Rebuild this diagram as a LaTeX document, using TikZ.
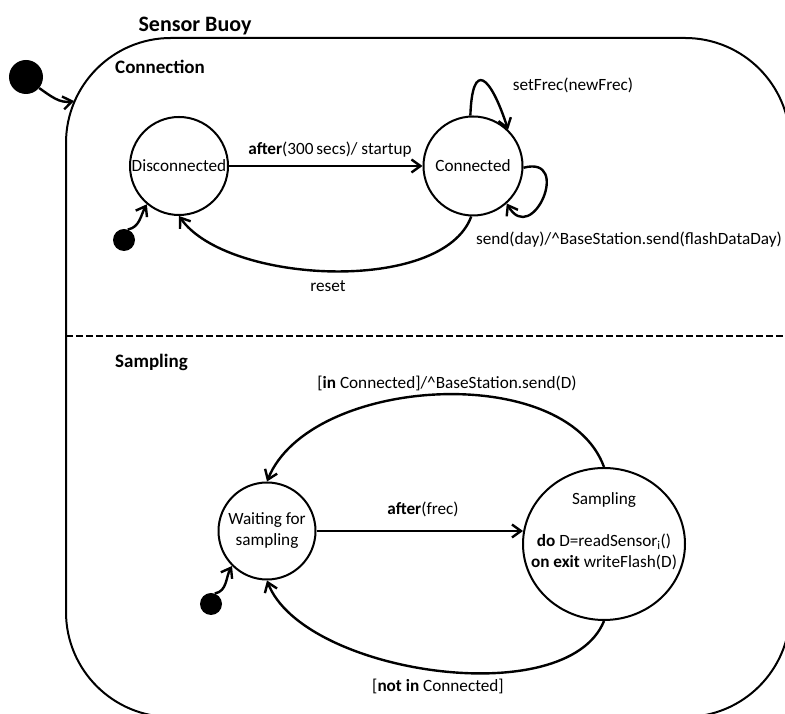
\documentclass[tikz,border=0pt]{standalone}
\usepackage{fontspec}
\setmainfont{Carlito}
\usetikzlibrary{positioning,shapes,fit,calc,arrows.meta}

\begin{document}
\begin{tikzpicture}[x=1pt,y=1pt,font=\fontsize{17.2}{21}\selectfont,
        sstate/.style={draw,circle,line width=2pt,inner sep=0pt,align=center},
        tr/.style={line width=2.4pt,-{Straight Barb[length=9pt,width=13pt]}},
        initdot/.style={fill,circle,inner sep=0pt},
        lbl/.style={inner sep=0pt,anchor=base},
        ttl/.style={inner sep=0pt,anchor=base west,font=\bfseries\fontsize{19}{23}\selectfont}]
        \useasboundingbox (0,0) rectangle (785,714);
        \clip (0,0) rectangle (785,714);

        % composite state
        \draw[line width=2pt,rounded corners=105pt] (66,-3) rectangle (790,676);
        \draw[line width=2pt,dash pattern=on 7pt off 3pt] (66,378) -- (790,378);
        \node[inner sep=0pt,anchor=base,font=\bfseries\fontsize{22}{26}\selectfont](buoy)at(195,682){Sensor Buoy};
        \node[ttl](conn)at(115,640){Connection};
        \node[ttl](samp)at(115,346){Sampling};

        \node[initdot,minimum size=34pt](start)at(26,637){};
        \coordinate (entry) at (74,613);
        \draw[tr] (start.-40) to [out=-35,in=190] (entry);

        % connection region
        \node[sstate,minimum size=98pt](dis)at(179,548){Disconnected};
        \node[sstate,minimum size=99pt](con)at(473,548){Connected};
        \node[initdot,minimum size=22pt](i1)at(124,474){};

        \draw[tr] (i1.70) to [out=10,in=-120] (dis.-130);
        \draw[tr] (dis) -- (con);
        \draw[tr] (con.93) to [out=88,in=108,looseness=3.6] (con.46);
        \draw[tr] (con.-2) to [out=15,in=-60,looseness=3.3] (con.-48);
        \draw[tr] (con.-92) to [out=-110,in=-55,looseness=0.73] (dis.-90);

        \node[lbl](l1)at(330,559){\textbf{after}(300\,secs)/ startup};
        \node[lbl](l2)at(573,623){setFrec(newFrec)};
        \node[lbl](l3)at(629,469){send(day)/\textasciicircum BaseStation.send(flashDataDay)};
        \node[lbl](l4)at(328,422){reset};

        % sampling region
        \node[sstate,minimum size=97pt](wait)at(267,183){Waiting for\\sampling};
        \node[sstate,ellipse,minimum width=162pt,minimum height=152pt](sam)at(604,170){};
        \node[inner sep=0pt,align=center,anchor=base](samtxt)at(604,146){Sampling\\[21pt]\textbf{do} D=readSensor\textsubscript{i}()\\\textbf{on exit} writeFlash(D)};
        \node[initdot,minimum size=22pt](i2)at(211,110){};

        \draw[tr] (i2.70) to [out=10,in=-120] (wait.-135);
        \draw[tr] (wait.east) -- ($(wait.east -| sam.west)+(1,0)$);
        \draw[tr] (sam.90) to [out=110,in=68,looseness=0.86] (wait.90);
        \draw[tr] (sam.-90) to [out=-112,in=-69,looseness=0.75] (wait.-90);

        \node[lbl](l5)at(423,199){\textbf{after}(frec)};
        \node[lbl](l6)at(447,325){[\textbf{in} Connected]/\textasciicircum BaseStation.send(D)};
        \node[lbl](l7)at(438,22){[\textbf{not in} Connected]};
    \end{tikzpicture}
\end{document}
